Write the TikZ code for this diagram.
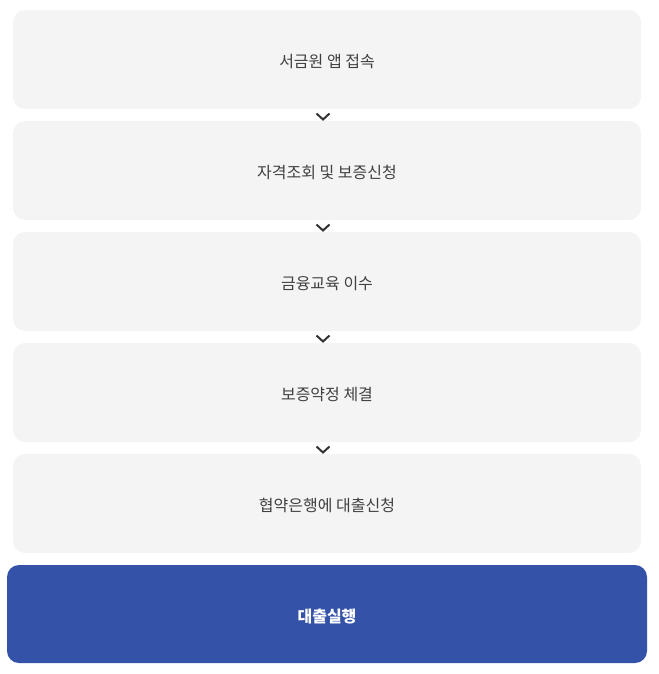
\documentclass[tikz,border=0pt]{standalone}
\usepackage{fontspec}
\setmainfont{Noto Sans CJK KR}
\usetikzlibrary{positioning,calc}

\definecolor{boxgray}{HTML}{F4F4F4}
\definecolor{txtgray}{HTML}{404040}
\definecolor{chevgray}{HTML}{333333}
\definecolor{loanblue}{HTML}{3352A8}

\tikzset{
	stepbox/.style={fill=boxgray, rounded corners=12pt, inner sep=0pt,
		minimum width=628pt, minimum height=99pt,
		text height=17pt, text depth=1pt,
		text=txtgray, font=\fontsize{16pt}{19pt}\selectfont},
	lastbox/.style={fill=loanblue, rounded corners=12pt, inner sep=0pt,
		minimum width=640pt, minimum height=98pt,
		text height=17.5pt, text depth=1pt,
		text=white, font=\fontsize{16pt}{19pt}\selectfont\bfseries},
	chev/.style={draw=chevgray, line width=2pt}
}

\begin{document}
\begin{tikzpicture}
	\useasboundingbox (0,0) rectangle (658pt,-674pt);
	% steps
	\node[stepbox] (s1) at (327pt,-59.5pt) {서금원 앱 접속};
	\node[stepbox, below=11.6pt of s1] (s2) {자격조회 및 보증신청};
	\node[stepbox, below=11.6pt of s2] (s3) {금융교육 이수};
	\node[stepbox, below=11.6pt of s3] (s4) {보증약정 체결};
	\node[stepbox, below=11.6pt of s4] (s5) {협약은행에 대출신청};
	% result
	\node[lastbox, below=11.6pt of s5] (s6) {대출실행};
	% chevrons
	\foreach \a/\b in {s1/s2, s2/s3, s3/s4, s4/s5}
		\draw[chev] ($(\a.south)!0.5!(\b.north)+(-10.5pt,1.5pt)$)
		-- ++(6.5pt,-6pt) -- ++(6.5pt,6pt);
\end{tikzpicture}
\end{document}
